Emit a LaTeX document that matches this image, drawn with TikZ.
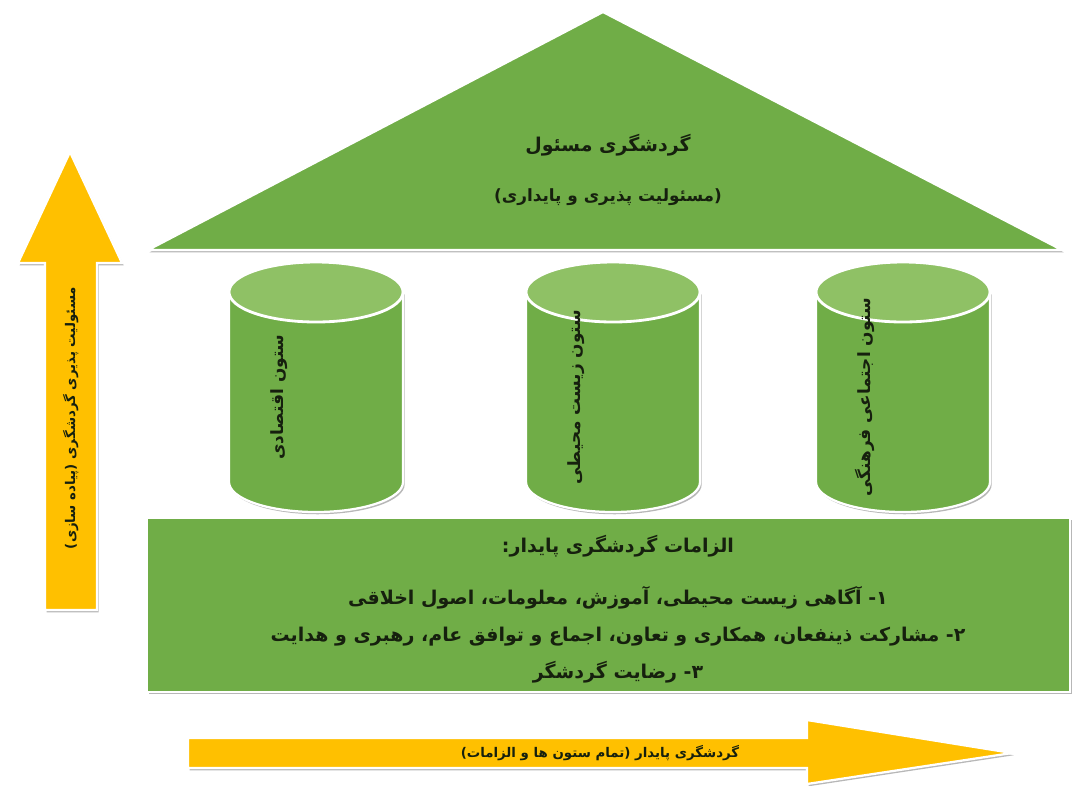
\documentclass[tikz,border=0pt]{standalone}
\usepackage{fontspec}
\usepackage{xcolor}
\usepackage{tikz}
\usetikzlibrary{positioning, shadows, calc}
\TeXXeTstate=1
\newfontfamily\farsifont[Script=Arabic]{DejaVu Sans}
\definecolor{roofColor}{RGB}{112,173,71}
\definecolor{pillarTopColor}{RGB}{143,193,101}
\definecolor{arrowColor}{RGB}{255,192,0}
\definecolor{inkColor}{RGB}{22,32,14}

\begin{document}
\begin{tikzpicture}[
        x=0.025cm, y=-0.025cm,
        node distance=0.5cm,
        greenpart/.style={fill=roofColor, draw=white, line width=1.6pt, drop shadow={shadow xshift=1.2pt, shadow yshift=-1.6pt, fill=gray!80, opacity=0.7}},
        pillartop/.style={fill=pillarTopColor, draw=white, line width=2pt},
        arrowpart/.style={fill=arrowColor, draw=white, line width=1.6pt, drop shadow={shadow xshift=1.2pt, shadow yshift=-1.6pt, fill=gray!80, opacity=0.7}},
        farsitext/.style={text=inkColor, inner sep=0pt, text height=0.3cm, text depth=0.1cm},
        roofbig/.style={font=\farsifont\bfseries\fontsize{13.5}{16}\selectfont},
        roofsmall/.style={font=\farsifont\bfseries\fontsize{12}{14}\selectfont},
        pillarfont/.style={font=\farsifont\bfseries\fontsize{12}{14}\selectfont},
        basefont/.style={font=\farsifont\bfseries\fontsize{13.5}{16}\selectfont},
        arrowfont/.style={font=\farsifont\bfseries\fontsize{9.5}{11}\selectfont}
    ]
        \useasboundingbox (0,0) rectangle (1080,785);
        \fill[white] (0,0) rectangle (1080,785);

        % Roof
        \fill[greenpart] (148,250) -- (603,12) -- (1062,250) -- cycle;
        \node[farsitext, roofbig] (roofTitle) at (608,147) {\beginR گردشگری مسئول\endR};
        \node[farsitext, roofsmall, below=0.85cm of roofTitle] (roofSub) {\beginR (مسئولیت پذیری و پایداری)\endR};

        % Pillars
        \foreach \cx/\pname/\ptext in {316/ecoPillar/{ستون اقتصادی}, 613/envPillar/{ستون زیست محیطی}, 903/socPillar/{ستون اجتماعی فرهنگی}} {
            \fill[greenpart] (\cx-87,292) -- (\cx-87,482) arc[start angle=180, end angle=0, x radius=87, y radius=30] -- (\cx+87,292) -- cycle;
            \fill[pillartop] (\cx,292) ellipse [x radius=87, y radius=30];
            \node[farsitext, pillarfont, rotate=90] (\pname) at (\cx-37,397) {\beginR\ptext\endR};
        }

        % Base (requirements)
        \fill[greenpart] (147,518) rectangle (1070,692);
        \node[farsitext, basefont] (reqHead) at (618,548) {\beginR الزامات گردشگری پایدار:\endR};
        \node[farsitext, basefont, below=0.9cm of reqHead] (reqOne) {\beginR ۱- آگاهی زیست محیطی، آموزش، معلومات، اصول اخلاقی\endR};
        \node[farsitext, basefont, below=0.52cm of reqOne] (reqTwo) {\beginR ۲- مشارکت ذینفعان، همکاری و تعاون، اجماع و توافق عام، رهبری و هدایت\endR};
        \node[farsitext, basefont, below=0.5cm of reqTwo] (reqThree) {\beginR ۳- رضایت گردشگر\endR};

        % Side arrow
        \fill[arrowpart] (45,610) -- (45,263) -- (18,263) -- (70,152) -- (122,263) -- (97,263) -- (97,610) -- cycle;
        \node[farsitext, arrowfont, rotate=90] (upText) at (71,418) {\beginR مسئولیت پذیری گردشگری (پیاده سازی)\endR};

        % Bottom arrow
        \fill[arrowpart] (188,738) -- (807,738) -- (807,720) -- (1012,753) -- (807,784) -- (807,768) -- (188,768) -- cycle;
        \node[farsitext, arrowfont] (rightText) at (600,753) {\beginR گردشگری پایدار (تمام ستون ها و الزامات)\endR};
    \end{tikzpicture}
\end{document}
